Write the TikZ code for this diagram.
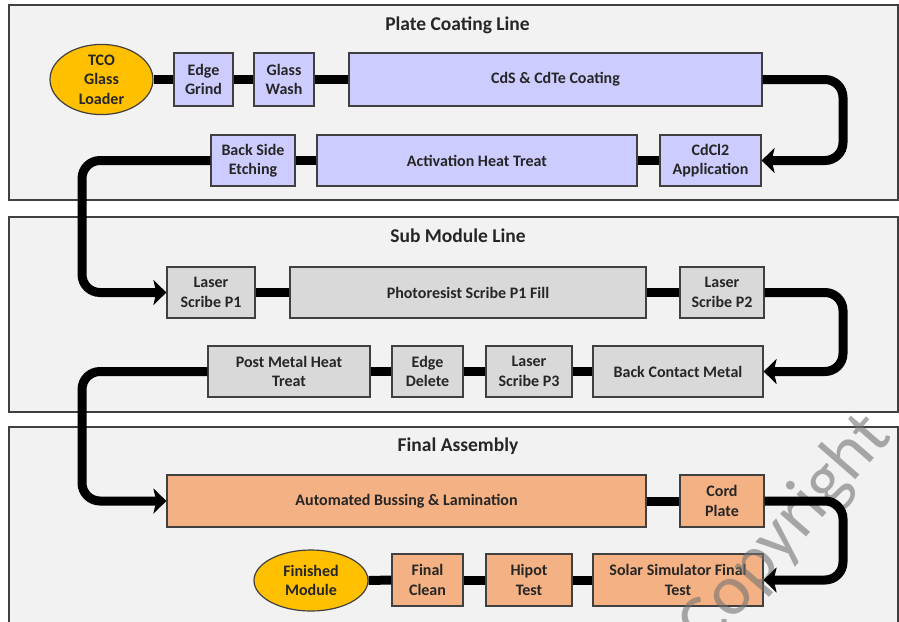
\documentclass[tikz,border=0pt]{standalone}
\usepackage{fontspec}
\setmainfont{Carlito}
\usetikzlibrary{arrows.meta,shapes.geometric}
\definecolor{blueF}{HTML}{CCCCFF}
\definecolor{grayF}{HTML}{D9D9D9}
\definecolor{orangeF}{HTML}{F4B183}
\definecolor{goldF}{HTML}{FFC000}
\definecolor{secbg}{HTML}{F2F2F2}
\definecolor{bd}{HTML}{404040}
\definecolor{txt}{HTML}{262626}
\tikzset{
  section/.style={draw=bd, line width=1.3pt, fill=secbg},
  sectitle/.style={font=\bfseries\fontsize{19.5}{23}\selectfont, text=txt, inner sep=0},
  box/.style={draw=bd, line width=1.2pt, font=\bfseries\fontsize{16}{19.5}\selectfont, text=txt, align=center, inner sep=0},
  bluebox/.style={box, fill=blueF},
  graybox/.style={box, fill=grayF},
  orangebox/.style={box, fill=orangeF},
  goldell/.style={box, ellipse, fill=goldF},
  conn/.style={line width=9pt, black},
  loop/.style={conn, rounded corners=18pt, -{Stealth[length=13pt,width=25pt,inset=3pt]}}
}
\begin{document}
\begin{tikzpicture}[x=1pt,y=-1pt]
\useasboundingbox (0,0) rectangle (899,621);
\clip (0,0) rectangle (899,621);
\fill[white] (0,0) rectangle (899,621);
% sections
\draw[section] (9,5) rectangle (898,200);
\draw[section] (9,217) rectangle (898,412);
\draw[section] (9,427) rectangle (898,640);
\node[sectitle] (t1) at (457.5,25) {Plate Coating Line};
\node[sectitle] (t2) at (458,236) {Sub Module Line};
\node[sectitle] (t3) at (458,446) {Final Assembly};
% row 1
\node[goldell, minimum width=103pt, minimum height=61pt] (tco) at (101.5,79.5) {TCO\\Glass\\Loader};
\node[bluebox, minimum width=59pt, minimum height=53pt] (eg) at (203.5,79.5) {Edge\\Grind};
\node[bluebox, minimum width=60pt, minimum height=53pt] (gw) at (284,79.5) {Glass\\Wash};
\node[bluebox, minimum width=413pt, minimum height=53pt] (cds) at (555.5,79.5) {CdS \& CdTe Coating};
% row 2
\node[bluebox, minimum width=84pt, minimum height=51pt] (bse) at (253,160.5) {Back Side\\Etching};
\node[bluebox, minimum width=320pt, minimum height=51pt] (aht) at (477,160.5) {Activation Heat Treat};
\node[bluebox, minimum width=101pt, minimum height=51pt] (cdcl) at (710.5,160.5) {CdCl2\\Application};
% row 3
\node[graybox, minimum width=88pt, minimum height=51pt] (ls1) at (211,292.5) {Laser\\Scribe P1};
\node[graybox, minimum width=356pt, minimum height=51pt] (pr) at (468,292.5) {Photoresist Scribe P1 Fill};
\node[graybox, minimum width=84pt, minimum height=51pt] (ls2) at (722,292.5) {Laser\\Scribe P2};
% row 4
\node[graybox, minimum width=162pt, minimum height=51pt] (pmh) at (289,371.5) {Post Metal Heat\\Treat};
\node[graybox, minimum width=71pt, minimum height=51pt] (ed) at (427.5,371.5) {Edge\\Delete};
\node[graybox, minimum width=86pt, minimum height=51pt] (ls3) at (529,371.5) {Laser\\Scribe P3};
\node[graybox, minimum width=170pt, minimum height=51pt] (bcm) at (678,371.5) {Back Contact Metal};
% row 5
\node[orangebox, minimum width=479pt, minimum height=52pt] (abl) at (406.5,501) {Automated Bussing \& Lamination};
\node[orangebox, minimum width=84pt, minimum height=52pt] (cp) at (722,501) {Cord\\Plate};
% row 6
\node[goldell, minimum width=114pt, minimum height=61pt] (fm) at (311,580.5) {Finished\\Module};
\node[orangebox, minimum width=71pt, minimum height=52pt] (fc) at (427.5,580) {Final\\Clean};
\node[orangebox, minimum width=86pt, minimum height=52pt] (hp) at (529,580) {Hipot\\Test};
\node[orangebox, minimum width=170pt, minimum height=52pt] (ss) at (678,580) {Solar Simulator Final\\Test};
% watermark
\node[font=\fontsize{72}{76}\selectfont, text=black!55, opacity=0.6, rotate=49, inner sep=0] (wm) at (786,532) {Copyright};
% straight links
\draw[conn] (tco.east) -- (eg.west);
\draw[conn] (eg.east) -- (gw.west);
\draw[conn] (gw.east) -- (cds.west);
\draw[conn] (aht.east) -- (cdcl.west);
\draw[conn] (bse.east) -- (aht.west);
\draw[conn] (ls1.east) -- (pr.west);
\draw[conn] (pr.east) -- (ls2.west);
\draw[conn] (pmh.east) -- (ed.west);
\draw[conn] (ed.east) -- (ls3.west);
\draw[conn] (ls3.east) -- (bcm.west);
\draw[conn] (abl.east) -- (cp.west);
\draw[conn] (fm.east) -- (fc.west);
\draw[conn] (fc.east) -- (hp.west);
\draw[conn] (hp.east) -- (ss.west);
% loops
\coordinate (r1) at (843,79.5);
\coordinate (r2) at (843,292.5);
\coordinate (r3) at (843,501);
\coordinate (l1) at (82,160.5);
\coordinate (l2) at (82,371.5);
\draw[loop] (cds.east) -- (r1) |- (cdcl.east);
\draw[loop] (ls2.east) -- (r2) |- (bcm.east);
\draw[loop] (cp.east) -- (r3) |- (ss.east);
\draw[loop] (bse.west) -- (l1) |- (ls1.west);
\draw[loop] (pmh.west) -- (l2) |- (abl.west);
\end{tikzpicture}
\end{document}
